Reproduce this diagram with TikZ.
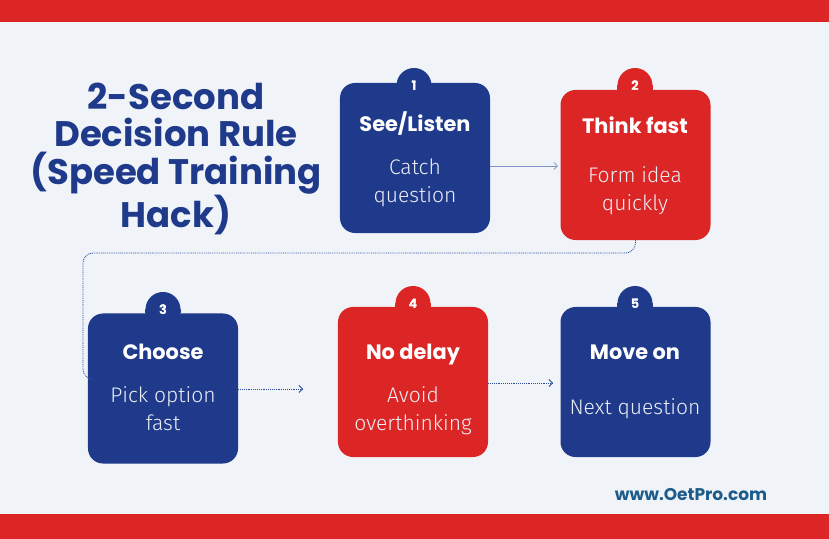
\documentclass[tikz,border=0pt]{standalone}
\usepackage{fontspec}
\setmainfont{Fira Sans}
\newfontfamily\bodyf{Fira Sans Light}
\newfontfamily\pop{Poppins}
\usetikzlibrary{arrows.meta}
\definecolor{bg}{HTML}{F0F4F9}
\definecolor{nblue}{HTML}{1F3A8A}
\definecolor{nred}{HTML}{DC2626}
\definecolor{urlc}{HTML}{1D5C8A}
\definecolor{lnk}{HTML}{7F93C6}
\definecolor{dotc}{HTML}{2E4C9C}
\begin{document}
\begin{tikzpicture}[x=0.03cm,y=-0.03cm,
  card/.style={rounded corners=0.45cm, minimum width=4.5cm, minimum height=4.5cm, inner sep=0pt},
  badge/.style={circle, minimum size=1.05cm, inner sep=0pt, text=white, font=\pop\bfseries\fontsize{11}{13}\selectfont},
  ttl/.style={text=white, font=\pop\bfseries\fontsize{17.8}{20}\selectfont, inner sep=0pt, text height=0.7em, text depth=0pt},
  body/.style={text=white!92!nblue, align=center, font=\bodyf\fontsize{18}{23.8}\selectfont, inner sep=0pt},
  solidlink/.style={draw=lnk, line width=0.6pt, -{Straight Barb[length=3pt,width=6pt]}},
  dotlink/.style={draw=dotc, line width=0.7pt, dash pattern=on 0.8pt off 0.8pt, -{Straight Barb[length=3pt,width=6pt]}},
  dotline/.style={draw=dotc, line width=0.7pt, dash pattern=on 0.8pt off 0.8pt, rounded corners=0.3cm}
]
\useasboundingbox (0,0) rectangle (829,539);
\fill[bg] (0,0) rectangle (829,539);
\fill[nred] (0,0) rectangle (829,22);
\fill[nred] (0,514) rectangle (829,539);

% title
\node[text=nblue, align=center, font=\pop\bfseries\fontsize{30.3}{32}\selectfont, inner sep=0pt] (title) at (176,159)
  {2-Second\\Decision Rule\\(Speed Training\\Hack)};

% badges
\node[badge, fill=nblue] (n1) at (414,85.5) {1};
\node[badge, fill=nred] (n2) at (635,85.5) {2};
\node[badge, fill=nblue] (n3) at (163,309.5) {3};
\node[badge, fill=nred] (n4) at (413,303.5) {4};
\node[badge, fill=nblue] (n5) at (635,303.5) {5};

% cards
\node[card, fill=nblue] (b1) at (415,158) {};
\node[card, fill=nred] (b2) at (635.5,165) {};
\node[card, fill=nblue] (b3) at (163,388.5) {};
\node[card, fill=nred] (b4) at (413,382) {};
\node[card, fill=nblue] (b5) at (635.5,382) {};

\fill[nred] (n2.west) rectangle (n2.east |- b2.north);
\fill[nblue] (n3.west) rectangle (n3.east |- b3.north);
\fill[nred] (n4.west) rectangle (n4.east |- b4.north);
\fill[nblue] (n5.west) rectangle (n5.east |- b5.north);
\node[badge] at (n1) {1};
\node[badge] at (n2) {2};
\node[badge] at (n3) {3};
\node[badge] at (n4) {4};
\node[badge] at (n5) {5};

% card texts
\node[ttl] (t1) at (415,127) {See/Listen};
\node[body] (d1) at (415,183) {Catch\\question};
\node[ttl] (t2) at (635,129) {Think fast};
\node[body] (d2) at (635,190.5) {Form idea\\quickly};
\node[ttl] (t3) at (163,355) {Choose};
\node[body] (d3) at (163,409) {Pick option\\fast};
\node[ttl] (t4) at (413,355) {No delay};
\node[body] (d4) at (413,410.5) {Avoid\\overthinking};
\node[ttl] (t5) at (635,355) {Move on};
\node[body] (d5) at (635,409) {Next question};

% connectors
\coordinate (c12) at (490,166);
\draw[solidlink, shorten >=2pt] (c12) -- (b2.west |- c12);
\coordinate (k23) at (83,253);
\draw[dotline] (b2.south) |- (k23) |- ([yshift=0.28cm]b3.west);
\coordinate (c34) at (303,389);
\draw[dotlink] (b3.east |- c34) -- (c34);
\coordinate (c45) at (553,383);
\draw[dotlink] (b4.east |- c45) -- (c45);

\node[text=urlc, font=\pop\bfseries\fontsize{14.5}{17}\selectfont, inner sep=0pt] (url) at (691,495) {www.OetPro.com};
\end{tikzpicture}
\end{document}
